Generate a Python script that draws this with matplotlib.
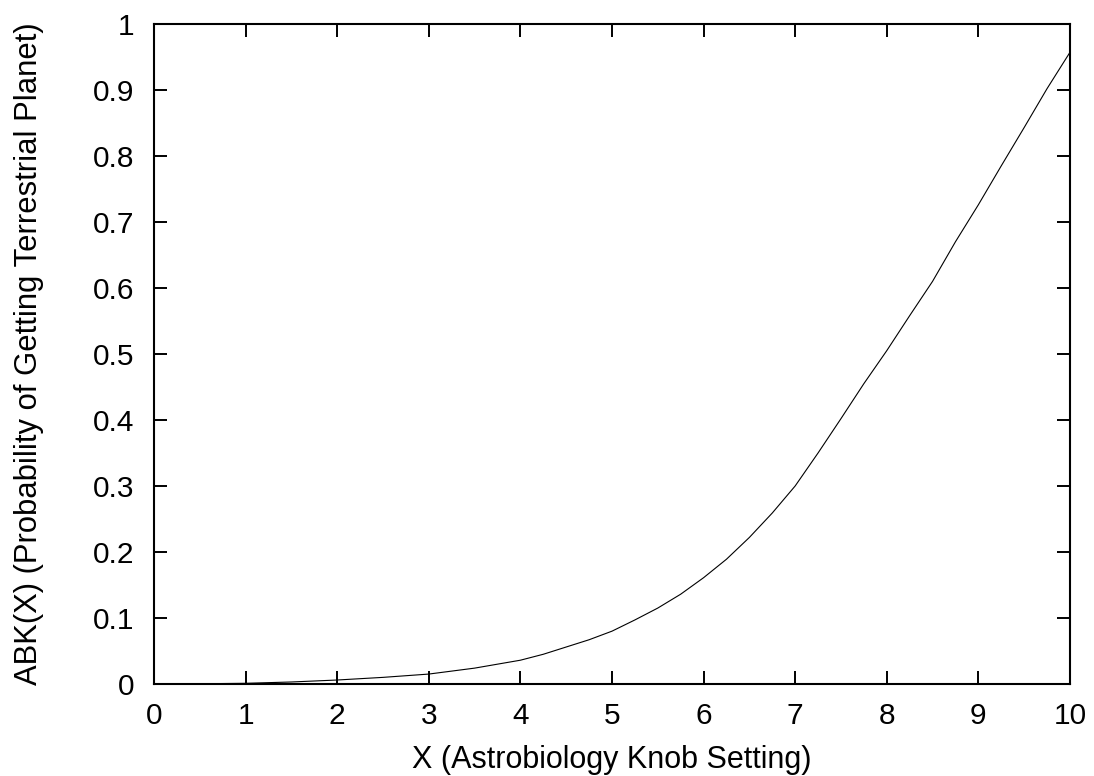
import matplotlib
matplotlib.use("Agg")
import matplotlib.pyplot as plt

plt.rcParams['font.family'] = ['Liberation Sans', 'DejaVu Sans']

# Knob setting and probability of getting a terrestrial planet
knob = [0.0, 0.5, 1.0, 1.5, 2.0, 2.5, 3.0, 3.5, 4.0, 4.25, 4.5, 4.75, 5.0,
        5.25, 5.5, 5.75, 6.0, 6.25, 6.5, 6.75, 7.0, 7.25, 7.5, 7.75, 8.0,
        8.25, 8.5, 8.75, 9.0, 9.25, 9.5, 9.75, 10.0]
abk = [0.0, 0.0003, 0.001, 0.003, 0.006, 0.010, 0.015, 0.024, 0.036, 0.045, 0.056, 0.067, 0.080,
       0.097, 0.115, 0.136, 0.161, 0.189, 0.222, 0.259, 0.300, 0.350, 0.402, 0.455, 0.505,
       0.558, 0.610, 0.670, 0.726, 0.785, 0.843, 0.902, 0.957]

xticks = list(range(0, 11))
yticks = [0, 0.1, 0.2, 0.3, 0.4, 0.5, 0.6, 0.7, 0.8, 0.9, 1]
yticklabels = ['0', '0.1', '0.2', '0.3', '0.4', '0.5', '0.6', '0.7', '0.8', '0.9', '1']

fig = plt.figure(figsize=(10.94, 7.76), dpi=100)
ax = fig.add_axes([0.1408, 0.1186, 0.8372, 0.8505])

ax.plot(knob, abk, color='black', linewidth=0.8)

ax.set_xlim(0, 10)
ax.set_ylim(0, 1)
ax.set_xticks(xticks)
ax.set_yticks(yticks)
ax.set_yticklabels(yticklabels)

ax.tick_params(direction='in', length=9.4, width=1.4, labelsize=21.5,
               top=True, right=True)
ax.tick_params(axis='x', pad=13)
ax.tick_params(axis='y', pad=14)
for s in ax.spines.values():
    s.set_linewidth(1.5)

ax.set_xlabel('X (Astrobiology Knob Setting)', fontsize=22)
ax.set_ylabel('ABK(X) (Probability of Getting Terrestrial Planet)', fontsize=22.3)
ax.xaxis.set_label_coords(0.5, -0.092)
ax.yaxis.set_label_coords(-0.120, 0.5)

fig.savefig('out.png', dpi=100)
